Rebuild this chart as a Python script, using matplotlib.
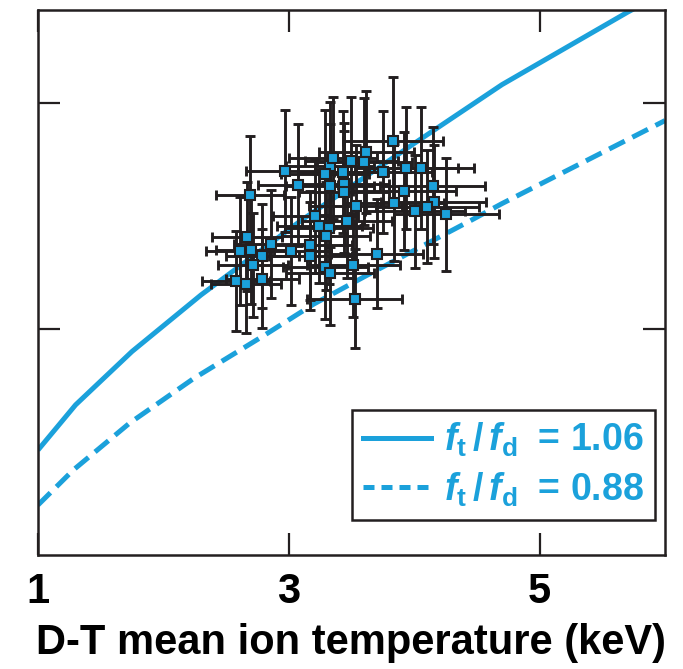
import matplotlib
matplotlib.use("Agg")
import matplotlib.pyplot as plt
from matplotlib.lines import Line2D

plt.rcParams['font.family'] = ['Liberation Sans Narrow', 'Liberation Sans', 'DejaVu Sans']
plt.rcParams['mathtext.fontset'] = 'custom'
plt.rcParams['mathtext.rm'] = 'Liberation Sans:bold'
plt.rcParams['mathtext.bf'] = 'Liberation Sans:bold'
plt.rcParams['mathtext.it'] = 'Liberation Sans:italic:bold'
plt.rcParams['mathtext.bfit'] = 'Liberation Sans:italic:bold'

BLUE = '#1ba1db'
DARK = '#231f20'

# model curves (keV, arbitrary units)
solid_T = [1.0, 1.3, 1.75, 2.3, 3.1, 4.0, 4.7, 5.7, 6.0]
solid_y = [0.464, 0.664, 0.90, 1.15, 1.48, 1.82, 2.08, 2.40, 2.49]
dashed_T = [1.0, 1.28, 1.73, 2.24, 2.8, 3.2, 3.6, 4.45, 4.7, 6.0]
dashed_y = [0.221, 0.375, 0.583, 0.78, 0.97, 1.11, 1.23, 1.479, 1.554, 1.921]

# measured shots
shot_T = [3.831, 3.618, 3.498, 3.602, 3.330, 2.967, 3.290, 3.432, 3.751, 3.937,
          4.054, 3.075, 3.330, 3.442, 3.438, 3.921, 4.148, 3.534, 3.841, 4.156,
          4.005, 4.105, 4.256, 3.211, 3.243, 3.322, 3.466, 3.298, 3.171, 3.019,
          3.171, 3.703, 3.290, 3.516, 3.330, 3.526, 3.350, 2.692, 2.666, 2.612,
          2.700, 2.860, 2.788, 2.713, 2.580, 2.660, 2.790]
shot_y = [1.832, 1.784, 1.744, 1.740, 1.722, 1.698, 1.687, 1.693, 1.692, 1.713,
          1.713, 1.638, 1.634, 1.640, 1.605, 1.609, 1.634, 1.545, 1.558, 1.563,
          1.520, 1.541, 1.506, 1.497, 1.455, 1.448, 1.475, 1.411, 1.369, 1.344,
          1.322, 1.333, 1.273, 1.284, 1.247, 1.134, 1.757, 1.592, 1.408, 1.344,
          1.350, 1.376, 1.322, 1.283, 1.211, 1.200, 1.222]
shot_Terr = [0.40, 0.38, 0.37, 0.38, 0.35, 0.31, 0.35, 0.36, 0.39, 0.41,
             0.42, 0.32, 0.35, 0.36, 0.36, 0.41, 0.42, 0.37, 0.40, 0.42,
             0.40, 0.41, 0.42, 0.34, 0.34, 0.35, 0.36, 0.35, 0.33, 0.32,
             0.33, 0.37, 0.34, 0.37, 0.35, 0.38, 0.35, 0.27, 0.28, 0.27,
             0.28, 0.30, 0.29, 0.28, 0.27, 0.28, 0.29]
shot_yerr = [0.28, 0.27, 0.28, 0.28, 0.28, 0.27, 0.28, 0.27, 0.27, 0.27,
             0.27, 0.27, 0.27, 0.27, 0.27, 0.26, 0.26, 0.27, 0.26, 0.25,
             0.25, 0.25, 0.25, 0.25, 0.25, 0.25, 0.25, 0.24, 0.24, 0.24,
             0.24, 0.24, 0.23, 0.23, 0.23, 0.22, 0.27, 0.26, 0.24, 0.24,
             0.24, 0.24, 0.23, 0.23, 0.22, 0.22, 0.22]

fig = plt.figure(figsize=(6.83, 6.69), dpi=100)
ax = fig.add_axes([0.0556, 0.1704, 0.918, 0.8146])

ax.plot(solid_T, solid_y, color=BLUE, lw=3.6, zorder=1, solid_capstyle='butt')
ax.plot(dashed_T, dashed_y, color=BLUE, lw=3.6, zorder=1, dashes=(3.5, 1.7))

ax.errorbar(shot_T, shot_y, xerr=shot_Terr, yerr=shot_yerr, fmt='none',
            ecolor=DARK, elinewidth=2.1, capsize=3.8, capthick=2.1, zorder=2)
ax.plot(shot_T, shot_y, 's', ms=7.8, mfc=BLUE, mec=DARK, mew=1.5, zorder=3)

ax.set_xlim(1, 6)
ax.set_ylim(0, 2.41)
ax.set_xticks([1, 3, 5])
ax.set_xticklabels(['1', '3', '5'])
ax.set_yticks([1, 2])
ax.set_yticklabels([])
ax.tick_params(direction='in', length=16, width=1.6, color=DARK,
               top=True, right=True, labelsize=30, pad=12)
for lab in ax.get_xticklabels():
    lab.set_fontweight('bold')
for s in ax.spines.values():
    s.set_linewidth(1.8)
    s.set_color(DARK)

ax.set_xlabel('D-T mean ion temperature (keV)', fontsize=30, fontweight='bold',
              labelpad=8)

handles = [Line2D([], [], color=BLUE, lw=3.6),
           Line2D([], [], color=BLUE, lw=3.6, dashes=(2.2, 1.4))]
labels = [r'$\mathbfit{f}_{\mathbf{t}}\,/\,\mathbfit{f}_{\mathbf{d}}\;$ = 1.06',
          r'$\mathbfit{f}_{\mathbf{t}}\,/\,\mathbfit{f}_{\mathbf{d}}\;$ = 0.88']
leg = ax.legend(handles, labels, loc='lower right', bbox_to_anchor=(0.984, 0.064),
                borderaxespad=0, frameon=True, fancybox=False, handlelength=1.8,
                handletextpad=0.35, borderpad=0.3, labelspacing=0.3,
                prop={'weight': 'bold', 'size': 27})
leg.get_frame().set_edgecolor(DARK)
leg.get_frame().set_linewidth(1.8)
leg.get_frame().set_alpha(1)
for t in leg.get_texts():
    t.set_color(BLUE)

fig.savefig('out.png', dpi=100)
